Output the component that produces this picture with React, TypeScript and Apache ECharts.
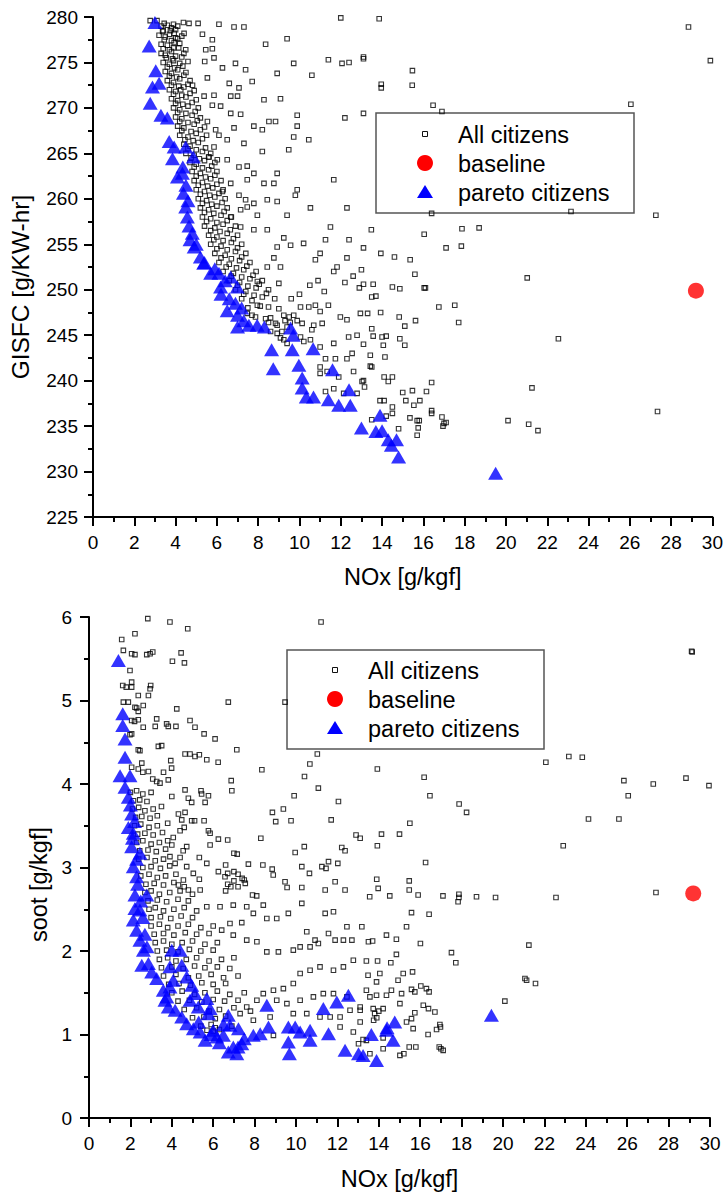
import React, { useEffect, useRef } from "react";
import * as echarts from "echarts";

const FONT = "'Liberation Sans', Arial, Helvetica, sans-serif";

// ---------- Top chart (NOx vs GISFC) ----------
const topAllCitizens: number[][] = [
  [2.77,279.6],[3.1,279.6],[3.45,279.3],[3.9,279.2],[4.38,279.4],[4.65,279.3],[5.09,279.3],[6.1,279.2],[6.83,278.9],[7.31,278.9],[12.0,279.9],
  [3.37,278.4],[3.93,278.2],[4.41,278.2],[5.3,278.1],[5.78,277.5],[8.36,277.0],[9.4,277.6],[3.93,277.2],[4.49,276.4],[5.46,276.4],[5.78,276.5],
  [5.41,275.1],[5.86,275.5],[6.27,274.4],[6.9,274.9],[7.39,274.2],[8.92,273.8],[9.72,274.9],[10.6,273.6],[11.4,275.3],[12.06,274.9],[12.4,275.0],[13.1,275.4],
  [6.6,272.7],[7.07,272.2],[6.67,271.3],[7.0,271.3],[7.71,272.9],[8.28,270.9],[9.08,271.0],[5.54,273.3],[5.86,271.4],[5.38,271.3],[4.82,272.5],[4.25,272.0],
  [5.78,270.3],[6.18,270.2],[6.67,269.4],[7.15,269.3],[8.52,268.5],[8.84,268.5],[9.89,269.2],[9.89,268.0],[12.2,268.9],[7.79,268.0],[8.2,267.6],[6.83,267.8],[5.54,268.5],[5.94,267.6],
  [6.1,267.0],[6.5,266.5],[7.31,266.1],[9.72,266.8],[10.45,266.5],[9.48,265.4],[8.2,265.2],[5.86,265.7],[5.62,264.6],[6.02,264.3],[6.5,264.3],[7.07,263.5],[7.47,263.6],[7.79,262.8],[7.47,262.1],[8.28,261.7],[8.92,262.8],[8.76,261.7],[11.66,262.1],[9.89,261.0],[9.8,260.4],
  [6.27,260.8],[6.67,261.7],[7.07,260.4],[7.39,259.9],[7.79,259.5],[8.44,259.9],[8.92,259.7],[10.53,259.0],[12.3,259.0],[9.4,258.2],[7.47,259.1],[7.96,258.2],[7.15,258.8],[6.67,258.0],[7.15,256.9],[7.79,256.6],[8.44,256.6],[11.5,256.9],[11.26,255.5],[12.4,255.5],[9.24,255.7],[9.57,254.9],[10.2,255.1],[10.77,253.3],[11.0,254.0],[11.66,252.0],[11.82,252.5],[8.92,254.7],[8.76,253.5],[8.44,252.5],[7.96,250.9],[9.0,250.7],[9.08,252.5],[13.1,254.6],
  [12.6,251.5],[12.9,250.2],[12.2,250.8],[11.2,249.8],[10.5,250.5],[10.0,249.5],[9.6,249.0],[10.9,251.0],[12.3,253.5],[13.0,252.2],
  [13.86,279.8],[13.1,275.6],[15.47,274.1],[13.96,272.6],[13.96,272.2],[15.46,272.5],[16.47,270.3],[16.9,269.6],[13.1,269.4],[26.05,270.4],[28.84,278.9],[29.9,275.2],[27.26,258.2],[23.15,258.6],[16.4,258.4],[13.48,256.6],[16.04,256.1],[17.87,256.7],[18.7,256.8],[17.1,254.6],[17.84,254.8],[13.94,254.0],[14.6,253.6],[15.36,253.3],[15.59,251.7],[21.03,251.3],[13.1,250.6],[13.57,250.6],[14.5,250.3],[14.86,250.1],[16.04,250.2],[16.1,250.2],[13.5,249.2],[13.7,249.3],
  [16.75,248.1],[17.52,248.3],[17.71,246.4],[15.62,246.6],[14.83,247.0],[15.1,246.0],[13.93,247.5],[13.3,247.4],[13.5,245.7],[13.57,244.9],[14.0,244.8],[14.2,244.9],[14.86,244.6],[15.1,243.9],[14.06,243.9],[13.1,244.0],[14.14,242.6],[13.43,242.8],[13.43,241.6],[13.5,241.5],[13.1,240.0],[13.15,239.3],[14.1,240.4],[14.3,239.9],[14.5,240.4],[16.4,239.8],[16.15,238.8],[15.47,238.9],[15.0,238.7],[15.15,237.8],[15.83,237.8],[15.54,237.3],[13.9,237.8],[14.1,237.8],[14.5,237.1],[14.5,236.4],[14.2,236.1],[13.5,235.7],[14.8,234.7],[15.35,235.9],[15.7,235.6],[15.8,235.6],[15.75,234.8],[15.7,234.0],[16.4,236.7],[16.4,236.4],[16.9,236.0],[17.0,235.3],[17.1,235.4],[16.95,235.0],[20.1,235.6],[21.1,235.2],[21.55,234.5],[21.26,239.2],[22.54,244.6],[27.34,236.6],
  [7.96,248.3],[8.1,248.2],[7.47,247.4],[7.7,247.2],[7.87,247.0],[8.36,246.8],[8.6,246.9],[8.84,246.3],[8.5,246.4],[8.92,246.1],[9.24,247.2],[9.5,247.0],[9.72,247.2],[9.3,246.6],[9.55,246.4],[9.89,246.6],[9.4,245.9],[8.6,245.4],[8.92,245.2],[9.15,245.4],[9.08,244.7],[9.24,244.5],[9.4,244.1],
  [10.05,248.1],[10.45,248.1],[10.77,248.3],[11.0,247.6],[11.4,248.3],[11.98,247.0],[12.3,246.7],[12.95,247.4],[10.13,246.3],[10.69,246.1],[11.1,246.3],[10.6,245.6],[10.05,244.8],[10.53,244.5],[10.21,244.3],[11.0,243.7],
  [11.26,242.4],[11.74,242.4],[12.3,242.4],[12.55,243.0],[11.66,244.1],[12.38,244.8],[12.79,245.0],[11.0,241.5],[11.0,240.8],[11.34,241.0],[11.9,240.4],[12.62,241.0],[13.03,239.9],[12.14,238.6],[11.66,239.1],[12.79,238.6],[11.26,238.8],
  [3.3,279],[3.6,279.1],[3.8,278.8],[4.1,279],
  [3.2,278],[3.5,277.8],[3.7,278.1],[4.0,277.7],[4.3,277.9],
  [3.3,277],[3.6,276.9],[3.9,276.6],[4.2,277.1],
  [3.3,276],[3.5,275.8],[3.8,276.2],[4.0,275.7],[4.4,276],
  [3.4,275],[3.7,274.8],[3.9,275.2],[4.2,274.9],[4.6,275.1],
  [3.5,274],[3.8,273.8],[4.1,274.2],[4.5,273.9],
  [3.6,273],[3.9,272.8],[4.2,273.2],[4.7,273],
  [3.7,272],[4.0,271.8],[4.4,272.3],[4.9,271.9],
  [3.8,271],[4.1,270.8],[4.5,271.2],[5.0,270.9],
  [3.9,270],[4.2,269.8],[4.6,270.2],[5.1,270],
  [4.0,269],[4.3,268.8],[4.8,269.2],[5.2,268.9],
  [4.1,268],[4.4,267.8],[4.9,268.2],[5.4,267.9],
  [4.2,267],[4.6,266.8],[5.0,267.2],[5.5,267],
  [4.4,266],[4.7,265.8],[5.1,266.2],
  [4.5,265],[4.9,264.8],[5.3,265.2],[5.7,265],
  [4.7,264],[5.0,263.8],[5.4,264.2],[5.9,264],
  [4.8,263],[5.2,262.8],[5.6,263.2],[6.0,263],
  [4.9,262],[5.3,261.8],[5.7,262.2],[6.2,262],
  [5.0,261],[5.4,260.8],[5.8,261.2],[6.3,261],
  [5.1,260],[5.5,259.8],[5.9,260.2],[6.4,260],
  [5.2,259],[5.6,258.8],[6.0,259.2],[6.5,259],
  [5.3,258],[5.7,257.8],[6.2,258.2],[6.7,258],
  [5.4,257],[5.9,256.8],[6.3,257.2],[6.9,257],
  [5.6,256],[6.0,255.8],[6.5,256.2],[7.0,256],
  [5.7,255],[6.2,254.8],[6.7,255.2],[7.2,255],
  [5.9,254],[6.4,253.8],[6.9,254.2],[7.4,254],
  [6.1,253],[6.6,252.8],[7.1,253.2],[7.6,253],
  [6.3,252],[6.8,251.8],[7.3,252.2],[7.9,252],
  [6.6,251],[7.1,250.8],[7.6,251.2],[8.2,251],
  [6.9,250],[7.4,249.8],[7.9,250.2],[8.5,250],
  [7.2,249],[7.7,248.8],[8.2,249.2],[8.8,249],
  [7.5,248],[8.5,248.1],[9.0,247.9],
  [3.4,278.5],[3.75,278.5],[4.0,278.6],
  [3.45,277.5],[3.8,277.4],[4.1,277.6],
  [3.4,276.5],[3.7,276.4],[4.15,276.6],
  [3.55,275.5],[3.85,275.4],[4.3,275.6],
  [3.6,274.5],[3.95,274.4],[4.35,274.6],
  [3.7,273.5],[4.05,273.4],[4.4,273.6],
  [3.8,272.5],[4.15,272.4],[4.6,272.6],
  [3.9,271.5],[4.3,271.4],[4.7,271.6],
  [4.0,270.5],[4.35,270.4],[4.8,270.6],
  [4.1,269.5],[4.5,269.4],[4.95,269.6],
  [4.2,268.5],[4.6,268.4],[5.05,268.6],
  [4.3,267.5],[4.75,267.4],[5.2,267.6],
  [4.45,266.5],[4.85,266.4],[5.3,266.6],
  [4.6,265.5],[5.0,265.4],[5.45,265.6],
  [4.75,264.5],[5.15,264.4],[5.6,264.6],
  [4.9,263.5],[5.3,263.4],[5.75,263.6],
  [5.0,262.5],[5.45,262.4],[5.9,262.6],
  [5.1,261.5],[5.55,261.4],[6.0,261.6],
  [5.2,260.5],[5.65,260.4],[6.1,260.6],
  [5.3,259.5],[5.75,259.4],[6.25,259.6],
  [5.4,258.5],[5.85,258.4],[6.35,258.6],
  [5.5,257.5],[6.0,257.4],[6.5,257.6],
  [5.7,256.5],[6.15,256.4],[6.65,256.6],
  [5.85,255.5],[6.3,255.4],[6.8,255.6],
  [6.0,254.5],[6.5,254.4],[7.0,254.6],
  [6.2,253.5],[6.7,253.4],[7.2,253.6],
  [6.45,252.5],[6.95,252.4],[7.45,252.6],
  [6.7,251.5],[7.2,251.4],[7.75,251.6],
  [7.0,250.5],[7.5,250.4],[8.05,250.6],
  [7.3,249.5],[7.8,249.4],[8.4,249.6],
];

const topBaseline: number[][] = [[29.2, 249.9]];

const topPareto: number[][] = [
  [3.0,279.4],[2.72,276.8],[3.04,274.1],[3.2,272.7],[2.88,272.3],[2.77,270.5],[3.29,269.2],[3.6,268.9],[3.69,266.3],[3.93,265.7],[4.49,265.7],[4.86,264.6],[3.85,264.4],[4.09,262.4],[4.33,262.8],[4.38,260.6],[4.49,259.1],[4.57,258.0],[4.81,256.2],[4.9,254.7],[5.2,253.6],[5.36,252.9],[5.7,251.8],[6.1,251.8],[6.18,250.3],[6.67,251.4],[6.99,250.3],
  [6.2,249.5],[6.6,249.0],[6.9,248.5],[7.2,248.0],[6.5,247.7],[7.0,247.2],[7.3,246.6],[7.0,245.9],[7.55,246.1],[7.95,246.1],[8.3,245.9],[8.65,243.4],[8.73,241.3],[9.57,245.8],[9.7,245.0],[9.65,243.4],[9.97,241.7],[10.13,240.3],[10.13,239.2],[10.33,238.2],[10.68,238.2],[10.66,243.5],[11.4,237.9],[11.6,241.2],[11.9,237.3],[12.46,237.3],[12.4,239.0],[13.0,234.8],[13.7,234.4],[13.9,236.2],[14.0,234.5],[14.3,233.5],[14.45,232.9],[14.7,233.5],[14.8,231.6],[19.5,229.8],
  [4.65,257.0],[4.7,255.5],[5.0,255.0],[4.5,261.5],[4.35,263.5],[5.4,253.0],[5.9,252.3],[6.4,251.0],[4.6,259.8],
];

// ---------- Bottom chart (NOx vs soot) ----------
const botAllCitizens: number[][] = [
  [1.58,5.73],[1.66,5.6],[2.06,5.56],[2.22,5.55],[2.79,5.55],[2.95,5.56],[3.08,5.58],[2.84,5.98],[3.91,5.94],[4.77,5.86],[2.22,5.80],[4.03,5.47],[4.61,5.45],[4.45,5.57],[1.98,5.36],[1.63,5.18],[1.8,5.16],[2.06,5.16],[2.06,5.22],[2.98,5.18],[2.95,5.14],[2.38,5.06],[2.87,5.06],[1.66,4.98],[1.9,4.98],[2.62,4.94],[2.22,4.92],[2.3,4.91],[2.38,4.87],[4.24,4.90],[6.73,4.98],[2.06,4.76],[2.2,4.75],[2.38,4.77],[3.27,4.78],[3.2,4.69],[3.75,4.72],[3.83,4.69],[4.2,4.69],[4.88,4.76],[5.12,4.68],[2.62,4.68],[2.06,4.6],[1.98,4.59],[5.56,4.60],[6.09,4.54],[7.14,4.41],[3.35,4.45],[3.51,4.46],[2.38,4.41],[2.46,4.40],[4.64,4.36],[4.88,4.36],[5.12,4.33],[5.33,4.35],[5.69,4.29],[6.24,4.26],[2.55,4.25],[2.06,4.20],[2.38,4.18],[2.87,4.15],[2.6,4.14],[3.6,4.14],[3.99,4.19],[3.95,4.28],[3.08,4.06],[3.27,4.03],[3.43,4.01],[3.83,4.05],[4.0,3.85],[4.64,3.93],[5.41,3.92],[5.44,3.88],[5.77,3.86],[4.8,3.83],[4.96,3.78],[5.61,3.78],[6.87,4.04],[6.9,3.92],[8.35,4.17],[9.91,3.86],[9.39,3.70],[8.86,3.66],[9.02,3.55],[9.76,3.56],[10.41,4.09],[10.67,4.24],[11.03,4.36],[11.08,3.95],[12.05,3.79],[11.7,3.57],[8.3,3.35],[6.7,3.33],[7.0,3.17],[7.16,3.16],[7.7,3.04],[8.4,3.03],[8.85,2.98],[8.9,2.91],[9.96,3.18],[10.4,3.25],[10.28,3.01],[10.65,2.93],[11.25,3.01],[11.45,2.99],[11.57,3.07],[11.89,2.83],[12.21,3.24],[12.37,3.2],[12.02,3.05],[12.9,3.39],[13.1,3.35],[9.47,2.83],[9.57,2.76],[10.28,2.76],[11.41,2.73],[12.37,2.73],[7.9,2.67],[8.1,2.66],[6.7,2.8],[6.85,2.77],[6.6,2.72],[7.0,2.84],[7.2,2.77],[7.4,2.87],[7.55,2.81],[6.6,3.03],[6.7,2.93],[7.0,2.95],[7.2,2.92],[7.5,2.85],[5.85,3.41],[6.25,3.34],[5.85,3.27],[5.33,3.12],[5.69,3.05],[6.25,2.95],[6.57,2.89],[4.96,3.56],[5.1,3.56],[5.56,3.56],[5.77,3.44],[4.48,3.57],[4.32,3.64],[4.64,3.66],[4.4,3.44],[4.6,3.48],[4.72,3.25],[4.55,3.2],[4.07,3.36],[4.0,3.27],[3.91,3.13],[4.16,3.05],[4.72,3.01],[5.04,2.93],[5.33,2.86],[4.56,2.85],[4.32,2.79],[4.6,2.77],[5.37,2.73],[4.8,2.73],[11.21,5.94],[9.47,4.98],
  [29.11,5.59],[29.14,5.58],[13.93,4.18],[16.19,4.08],[16.47,3.86],[17.88,3.76],[18.24,3.66],[15.5,3.53],[14.13,3.40],[15.0,3.40],[13.93,3.26],[16.26,3.06],[22.07,4.26],[23.18,4.33],[23.83,4.32],[25.84,4.04],[26.05,3.86],[27.26,4.0],[28.84,4.07],[29.95,3.98],[24.13,3.58],[25.6,3.58],[22.91,3.26],[13.9,2.86],[13.97,2.75],[15.47,2.84],[15.47,2.73],[15.9,2.67],[17.1,2.66],[17.87,2.68],[17.87,2.64],[18.72,2.65],[19.64,2.64],[22.56,2.64],[27.39,2.70],[13.56,2.65],[14.53,2.66],
  [15.58,2.46],[16.43,2.44],[15.34,2.29],[14.37,2.19],[14.85,2.14],[13.5,2.11],[13.7,2.12],[16.01,2.09],[14.85,1.96],[17.51,1.98],[17.72,1.86],[13.4,1.88],[13.94,1.88],[14.58,1.86],[21.25,2.07],[21.06,1.67],[21.14,1.65],[21.57,1.61],[20.09,1.40],[15.18,1.73],[15.63,1.75],[14.93,1.65],[14.05,1.73],[13.89,1.63],[13.48,1.71],[13.4,1.53],[13.57,1.45],[13.89,1.47],[14.37,1.47],[14.61,1.53],[15.1,1.49],[15.58,1.54],[15.74,1.51],[16.03,1.58],[16.3,1.55],[16.43,1.51],[15.02,1.37],[15.74,1.26],[16.15,1.35],[16.4,1.31],[16.71,1.27],[15.58,1.19],[15.66,1.07],[15.34,1.15],[16.38,1.0],[16.79,1.06],[16.95,1.12],[16.98,1.09],[16.92,0.85],[17.0,0.83],[17.11,0.81],[15.47,0.85],[15.79,0.85],[15.02,0.75],[15.21,0.77],[14.21,0.83],[14.21,0.96],[13.4,0.93],[13.24,0.94],[13.57,0.77],[13.73,1.31],[13.8,1.25],[13.9,1.2],[14.0,1.28],[14.21,1.31],[13.75,1.17],[17.83,2.59],[13.1,1.29],[13.1,1.15],
  [5.69,2.53],[6.33,2.53],[6.97,2.55],[7.62,2.53],[8.42,2.55],[7.94,2.45],[8.59,2.39],[9.07,2.39],[9.63,2.45],[10.28,2.57],[11.41,2.45],[11.81,2.47],[12.46,2.29],[13.18,2.29],[6.81,2.33],[7.38,2.34],[6.41,2.25],[6.97,2.19],[7.62,2.13],[8.11,2.11],[8.59,1.99],[9.15,1.99],[9.87,2.01],[10.2,2.05],[10.68,2.05],[11.08,2.09],[10.52,2.23],[10.92,2.13],[11.57,2.21],[11.89,2.13],[12.29,2.13],[12.7,2.13],[12.77,1.89],[12.29,1.81],[11.81,1.77],[11.16,1.81],[10.68,1.77],[10.2,1.73],[9.87,1.61],[9.39,1.55],[8.91,1.53],[8.42,1.49],[8.11,1.41],[7.62,1.33],[7.3,1.25],[7.94,1.17],[8.75,1.21],[9.87,1.25],[10.52,1.25],[11.16,1.21],[11.65,1.21],[12.13,1.21],[12.61,1.29],[13.1,1.33],[9.07,1.41],[9.56,1.37],[10.2,1.41],[10.84,1.45],[11.32,1.49],[11.81,1.49],[12.46,1.45],[8.91,0.99],[12.13,1.09],[12.77,1.03],[13.02,0.89],
  [2.0,3.9],[2.3,3.92],[2.6,3.88],[3.0,3.9],
  [2.1,3.7],[2.4,3.72],[2.7,3.68],[3.1,3.7],[3.5,3.73],
  [2.2,3.5],[2.5,3.52],[2.9,3.48],[3.3,3.5],[3.8,3.53],
  [2.3,3.3],[2.6,3.32],[3.0,3.28],[3.4,3.3],[3.8,3.32],
  [2.4,3.1],[2.8,3.12],[3.2,3.08],[3.6,3.1],[4.4,3.12],
  [2.5,2.9],[2.9,2.92],[3.3,2.88],[3.7,2.9],[4.2,2.92],
  [2.7,2.7],[3.0,2.72],[3.4,2.68],[3.9,2.7],[4.4,2.72],[5.0,2.68],
  [2.9,2.5],[3.2,2.52],[3.6,2.48],[4.1,2.5],[4.6,2.52],[5.2,2.48],
  [3.0,2.3],[3.4,2.32],[3.8,2.28],[4.3,2.3],[4.8,2.32],[5.4,2.28],[6.0,2.3],
  [3.2,2.1],[3.6,2.12],[4.0,2.08],[4.5,2.1],[5.0,2.12],[5.6,2.08],[6.2,2.1],
  [3.4,1.9],[3.8,1.92],[4.2,1.88],[4.7,1.9],[5.2,1.92],[5.8,1.88],[6.4,1.9],[7.0,1.92],
  [3.6,1.7],[4.2,1.72],[4.8,1.68],[5.3,1.7],[5.9,1.72],[6.5,1.68],[7.2,1.7],
  [4.0,1.5],[4.5,1.52],[5.1,1.48],[5.6,1.5],[6.2,1.52],[6.8,1.48],[7.5,1.5],
  [4.6,1.3],[5.2,1.32],[5.8,1.28],[6.3,1.3],[7.0,1.32],[7.8,1.28],
  [5.4,1.1],[5.9,1.12],[6.1,1.08],[6.9,1.1],
  [2.15,3.8],[2.45,3.81],[2.8,3.79],
  [2.25,3.6],[2.55,3.61],[2.95,3.59],[3.3,3.62],
  [2.35,3.4],[2.7,3.41],[3.1,3.39],[3.55,3.42],
  [2.45,3.2],[2.85,3.21],[3.25,3.19],[3.7,3.22],
  [2.6,3.0],[3.0,3.01],[3.45,2.99],[3.9,3.02],
  [2.75,2.8],[3.15,2.81],[3.6,2.79],[4.1,2.82],
  [2.85,2.6],[3.3,2.61],[3.75,2.59],[4.3,2.62],[4.8,2.6],
  [3.0,2.4],[3.45,2.41],[3.95,2.39],[4.45,2.42],[5.0,2.4],
  [3.15,2.2],[3.6,2.21],[4.1,2.19],[4.65,2.22],[5.2,2.2],[5.8,2.21],
  [3.3,2.0],[3.75,2.01],[4.3,1.99],[4.85,2.02],[5.4,2.0],[6.0,2.01],
  [3.5,1.8],[4.0,1.81],[4.55,1.79],[5.1,1.82],[5.6,1.8],[6.2,1.81],[6.8,1.79],
  [3.85,1.6],[4.35,1.61],[4.9,1.59],[5.45,1.62],[6.0,1.6],[6.6,1.61],
  [4.3,1.4],[4.85,1.41],[5.45,1.39],[6.0,1.42],[6.55,1.4],[7.2,1.41],
  [5.0,1.2],[5.55,1.21],[6.1,1.19],[6.6,1.22],
  [5.7,1.05],[6.0,1.04],[6.3,1.06],
];

const botBaseline: number[][] = [[29.19, 2.69]];

const botPareto: number[][] = [
  [1.42,5.48],[1.63,4.84],[1.63,4.70],[1.74,4.54],[1.74,4.32],[1.5,4.10],[1.98,4.10],[1.74,3.96],[1.9,3.84],[2.06,3.64],[1.9,3.48],[2.14,3.41],[2.06,3.25],[2.46,3.17],[2.14,3.01],[2.3,2.89],[2.22,2.67],[2.79,2.67],[2.22,2.51],[2.14,2.37],[2.46,2.49],[2.3,2.25],[2.46,2.13],[2.63,2.01],[2.55,1.83],[2.87,1.85],[3.03,1.75],[3.27,1.67],[3.59,1.53],[3.76,1.45],[3.91,1.57],[4.07,1.65],[3.91,1.81],[4.0,2.01],[4.4,2.01],[4.48,1.83],[4.72,1.69],[4.96,1.59],[5.12,1.49],[3.67,1.41],[3.83,1.33],[4.16,1.29],[4.48,1.21],[4.72,1.13],[5.04,1.07],[5.37,1.03],[4.88,1.41],[5.28,1.33],[5.69,1.43],[5.85,1.31],[5.77,1.25],[5.61,0.93],[6.17,0.97],[6.49,0.99],[6.73,1.23],[6.81,1.11],[7.22,1.07],[7.38,0.89],[6.97,0.85],[6.73,0.79],[7.14,0.77],[7.94,0.99],[8.27,1.01],[8.59,1.35],[8.67,1.09],[9.63,1.09],[9.63,0.91],[9.68,0.77],[9.96,1.09],[10.2,1.03],[10.68,1.05],[10.68,0.93],[11.32,1.31],[11.57,1.01],[11.97,1.39],[12.53,1.47],[12.37,0.81],[13.02,0.77],[13.24,0.75],[13.64,1.0],[13.89,0.69],[14.37,1.05],[14.69,0.93],[14.77,1.15],[14.4,1.08],[19.44,1.23],
  [2.0,3.75],[2.2,3.55],[2.1,3.35],[2.3,3.1],[2.35,2.8],[2.5,2.6],[2.6,2.4],[2.7,2.2],[2.8,2.05],[5.3,1.15],[6.0,1.05],[6.3,0.9],[5.9,1.0],[6.5,1.12],[7.5,0.95],[7.2,0.85],
];

const xName = "NOx [g/kgf]";
const topYName = "GISFC [g/KW-hr]";
const botYName = "soot [g/kgf]";
const legendNames = ["All citizens", "baseline", "pareto citizens"];

const axisBase = (extra: any) => ({
  type: "value",
  nameLocation: "middle",
  axisLine: { show: true, onZero: false, lineStyle: { color: "#000", width: 2 } },
  axisTick: { show: true, inside: false, length: 9, lineStyle: { color: "#000", width: 2 } },
  minorTick: { show: true, splitNumber: 2, length: 5, lineStyle: { color: "#000", width: 2 } },
  splitLine: { show: false },
  minorSplitLine: { show: false },
  nameTextStyle: { color: "#000", fontSize: 23.5, fontFamily: FONT },
  ...extra,
});

const squareStyle = { color: "rgba(0,0,0,0)", borderColor: "#000", borderWidth: 1.1 };

function legendGraphic(left: number, top: number, w: number, h: number, iconX: number, textX: number, rows: number[]) {
  const children: any[] = [
    { type: "rect", shape: { x: left, y: top, width: w, height: h }, style: { fill: "#fff", stroke: "#555", lineWidth: 1.5 } },
    { type: "rect", shape: { x: iconX - 2.5, y: rows[0] - 2.5, width: 5, height: 5 }, style: { fill: "none", stroke: "#111", lineWidth: 1 } },
    { type: "circle", shape: { cx: iconX, cy: rows[1], r: 8 }, style: { fill: "#ff0000" } },
    { type: "polygon", shape: { points: [[iconX, rows[2] - 7], [iconX + 8, rows[2] + 6], [iconX - 8, rows[2] + 6]] }, style: { fill: "#0000ff" } },
  ];
  legendNames.forEach((n, i) => {
    children.push({
      type: "text",
      style: { text: n, x: textX, y: rows[i] + 1, fill: "#000", fontSize: 23.5, fontFamily: FONT, verticalAlign: "middle", align: "left" },
    });
  });
  return { type: "group", children };
}

export default function App() {
  const ref = useRef<HTMLDivElement>(null);
  useEffect(() => {
    if (!ref.current) return;
    const chart = echarts.init(ref.current, undefined, { renderer: "svg" });
    chart.setOption({
      animation: false,
      backgroundColor: "#fff",
      textStyle: { fontFamily: FONT },
      grid: [
        { left: 92, top: 17, width: 621, height: 500 },
        { left: 89, top: 617, width: 621, height: 501 },
      ],
      xAxis: [
        axisBase({ gridIndex: 0, min: 0, max: 30, interval: 2, name: xName, nameGap: 48,
          axisLabel: { color: "#000", fontSize: 19, fontFamily: FONT, margin: 16 } }),
        axisBase({ gridIndex: 1, min: 0, max: 30, interval: 2, name: xName, nameGap: 49,
          axisLabel: { color: "#000", fontSize: 19, fontFamily: FONT, margin: 16 } }),
      ],
      yAxis: [
        axisBase({ gridIndex: 0, min: 225, max: 280, interval: 5, name: topYName, nameGap: 60,
          nameTextStyle: { color: "#000", fontSize: 24.5, fontFamily: FONT, padding: [0, 40, 0, 0] },
          axisLabel: { color: "#000", fontSize: 19, fontFamily: FONT, margin: 15 } }),
        axisBase({ gridIndex: 1, min: 0, max: 6, interval: 1, name: botYName, nameGap: 38,
          nameTextStyle: { color: "#000", fontSize: 23.5, fontFamily: FONT, padding: [0, 34, 0, 0] },
          axisLabel: { color: "#000", fontSize: 19, fontFamily: FONT, margin: 17 } }),
      ],
      series: [
        { name: legendNames[0], type: "scatter", xAxisIndex: 0, yAxisIndex: 0, data: topAllCitizens, symbol: "rect", symbolSize: 4.5, itemStyle: squareStyle, z: 2 },
        { name: legendNames[2], type: "scatter", xAxisIndex: 0, yAxisIndex: 0, data: topPareto, symbol: "triangle", symbolSize: [15, 13], itemStyle: { color: "#0000ff" }, z: 3 },
        { name: legendNames[1], type: "scatter", xAxisIndex: 0, yAxisIndex: 0, data: topBaseline, symbol: "circle", symbolSize: 16, itemStyle: { color: "#ff0000" }, z: 4 },
        { name: legendNames[0], type: "scatter", xAxisIndex: 1, yAxisIndex: 1, data: botAllCitizens, symbol: "rect", symbolSize: 4.5, itemStyle: squareStyle, z: 2 },
        { name: legendNames[2], type: "scatter", xAxisIndex: 1, yAxisIndex: 1, data: botPareto, symbol: "triangle", symbolSize: [15, 13], itemStyle: { color: "#0000ff" }, z: 3 },
        { name: legendNames[1], type: "scatter", xAxisIndex: 1, yAxisIndex: 1, data: botBaseline, symbol: "circle", symbolSize: 16, itemStyle: { color: "#ff0000" }, z: 4 },
      ],
      graphic: [
        legendGraphic(376, 113, 258, 100, 425, 458, [134, 163, 192]),
        legendGraphic(287, 650, 257, 99, 335, 368, [670, 699, 728]),
      ],
    });
    return () => chart.dispose();
  }, []);
  return <div ref={ref} style={{ position: "absolute", left: 0, top: 0, width: 726, height: 1197 }} />;
}
